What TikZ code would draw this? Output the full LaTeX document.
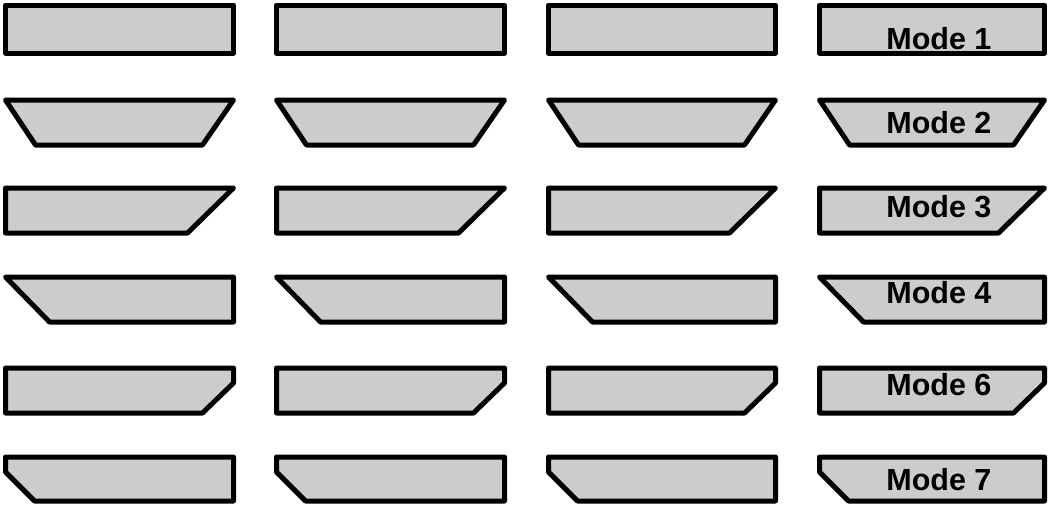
\documentclass[tikz,border=0pt]{standalone}
\usepackage{fontspec}
\setmainfont{Liberation Sans}

\begin{document}
\begin{tikzpicture}[
  x=0.5pt,y=-0.5pt,
  modebox/.style={draw,line width=2.5pt,line join=round,fill=black!20},
  modelabel/.style={anchor=base west,inner sep=0pt,
                    font=\fontsize{15.25}{18}\selectfont\bfseries}
]
\useasboundingbox (0,0) rectangle (1049,504);
% row 1: plain boxes
\foreach \x/\w in {5.5/228,276.5/228,548.5/227,819.5/225}
  \draw[modebox] (\x,5) rectangle ++(\w,48);
% row 2: both sides slanted
\foreach \x/\w in {5.5/228,276.5/228,548.5/227,819.5/225}
  \draw[modebox] (\x,100) -- ({\x+\w},100) -- ({\x+\w-31},145)
    -- ({\x+30},145) -- cycle;
% row 3: right side slanted
\foreach \x/\w in {5.5/228,276.5/228,548.5/227,819.5/225}
  \draw[modebox] (\x,188) -- ({\x+\w},188) -- ({\x+\w-46},233)
    -- (\x,233) -- cycle;
% row 4: left side slanted
\foreach \x/\w in {5.5/228,276.5/228,548.5/227,819.5/225}
  \draw[modebox] (\x,277) -- ({\x+\w},277) -- ({\x+\w},322)
    -- ({\x+44},322) -- cycle;
% row 5: lower right corner cut
\foreach \x/\w in {5.5/228,276.5/228,548.5/227,819.5/225}
  \draw[modebox] (\x,368) -- ({\x+\w},368) -- ({\x+\w},383)
    -- ({\x+\w-31},413) -- (\x,413) -- cycle;
% row 6: lower left corner cut
\foreach \x/\w in {5.5/228,276.5/228,548.5/227,819.5/225}
  \draw[modebox] (\x,457) -- ({\x+\w},457) -- ({\x+\w},501)
    -- ({\x+29},501) -- (\x,472) -- cycle;
% labels
\node[modelabel] (mode1) at (886,49) {Mode 1};
\node[modelabel] (mode2) at (886,133) {Mode 2};
\node[modelabel] (mode3) at (886,217) {Mode 3};
\node[modelabel] (mode4) at (886,303) {Mode 4};
\node[modelabel] (mode6) at (886,395) {Mode 6};
\node[modelabel] (mode7) at (886,490) {Mode 7};
\end{tikzpicture}
\end{document}
